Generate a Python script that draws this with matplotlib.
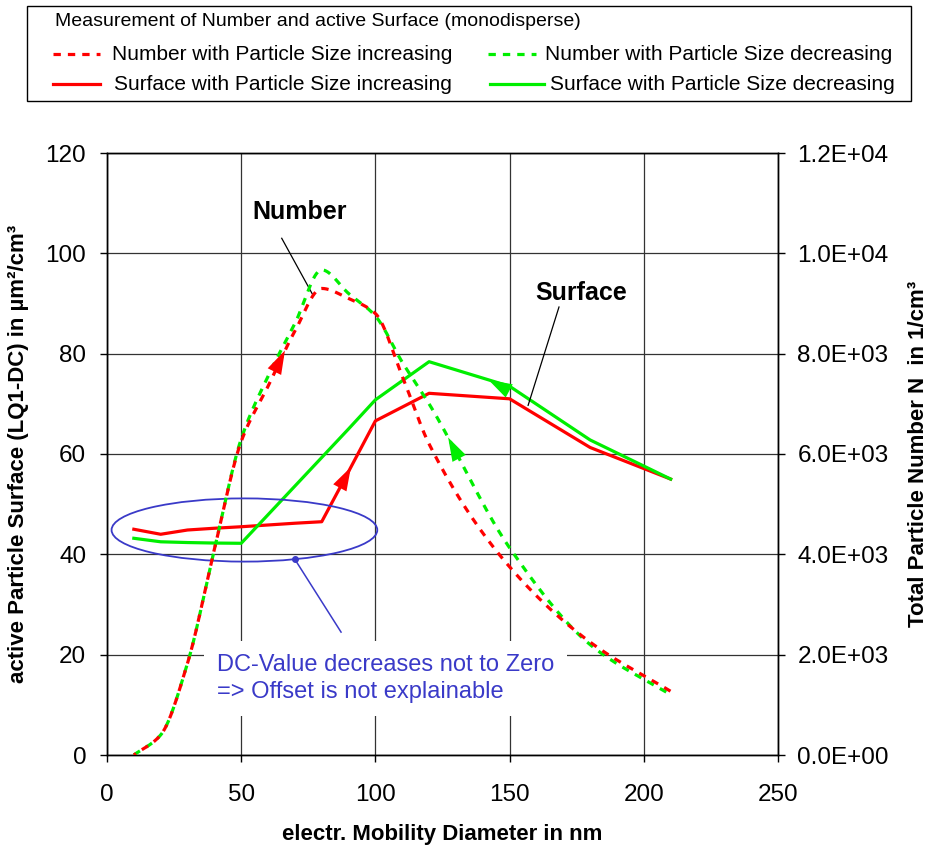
import numpy as np
import matplotlib
matplotlib.use("Agg")
import matplotlib.pyplot as plt
from matplotlib.patches import Ellipse, Rectangle
from matplotlib.lines import Line2D
from matplotlib.ticker import FuncFormatter

plt.rcParams["font.family"] = ["Liberation Sans", "DejaVu Sans"]

# Mobility diameter steps of the monodisperse scan (nm)
diameter_nm = [10, 20, 30, 40, 50, 60, 70, 80, 90, 100, 110, 120, 150, 180, 210]

# Total particle number N (1/cm³)
number_increasing = [0, 400, 1830, 4100, 6250, 7350, 8450, 9300, 9100, 8800, 7550, 6200, 3750, 2250, 1270]
number_decreasing = [0, 400, 1830, 4100, 6300, 7550, 8600, 9670, 9200, 8750, 7830, 7000, 4130, 2200, 1200]

# Active particle surface LQ1-DC (µm²/cm³)
surface_increasing = [45.0, 44.0, 44.85, 45.2, 45.5, 45.85, 46.2, 46.5, 56.5, 66.6, 69.35, 72.1, 71.0, 61.3, 55.0]
surface_decreasing = [43.2, 42.5, 42.35, 42.25, 42.2, 47.9, 53.6, 59.3, 65.0, 70.8, 74.6, 78.4, 73.5, 62.8, 55.0]

x_ticks = [0, 50, 100, 150, 200, 250]
surface_ticks = [0, 20, 40, 60, 80, 100, 120]
number_ticks = [0, 2000, 4000, 6000, 8000, 10000, 12000]

legend_title = "Measurement of Number and active Surface (monodisperse)"
legend_labels = ["Number with Particle Size increasing", "Number with Particle Size decreasing",
                 "Surface with Particle Size increasing", "Surface with Particle Size decreasing"]

RED = "#ff0000"
GREEN = "#00ee00"
BLUE = "#3a3ac8"
DASH = (0, (2.3, 2.2))

W, H = 944, 848


def smooth(x, y, n=60):
    """Shape-preserving (monotone) cubic curve through the measured points."""
    x = np.asarray(x, float)
    y = np.asarray(y, float)
    h = np.diff(x)
    d = np.diff(y) / h
    m = np.zeros_like(y)
    m[0], m[-1] = d[0], d[-1]
    for k in range(1, len(x) - 1):
        if d[k - 1] * d[k] > 0:
            w1 = 2 * h[k] + h[k - 1]
            w2 = h[k] + 2 * h[k - 1]
            m[k] = (w1 + w2) / (w1 / d[k - 1] + w2 / d[k])
    xs, ys = [x[0]], [y[0]]
    for k in range(len(x) - 1):
        t = np.linspace(0, 1, n)[1:]
        h00 = 2 * t ** 3 - 3 * t ** 2 + 1
        h10 = t ** 3 - 2 * t ** 2 + t
        h01 = -2 * t ** 3 + 3 * t ** 2
        h11 = t ** 3 - t ** 2
        xs.extend(x[k] + t * h[k])
        ys.extend(h00 * y[k] + h10 * h[k] * m[k] + h01 * y[k + 1] + h11 * h[k] * m[k + 1])
    return np.array(xs), np.array(ys)


def direction_arrow(axis, xs, ys, x_tip, x_base, color):
    """Filled arrow head sitting on a curve, pointing from x_base to x_tip."""
    x_back = x_tip - 2.5 * (x_tip - x_base)
    tip = (x_tip, np.interp(x_tip, xs, ys))
    back = (x_back, np.interp(x_back, xs, ys))
    axis.annotate("", xy=tip, xytext=back,
                  arrowprops=dict(arrowstyle="-|>,head_length=0.85,head_width=0.27",
                                  mutation_scale=20, fc=color, ec=color, lw=0,
                                  shrinkA=0, shrinkB=0), zorder=6)


def fx(px):
    return px / W


def fy(py):
    return 1 - py / H


fig = plt.figure(figsize=(W / 100, H / 100), dpi=100)
ax = fig.add_axes([fx(107), 93 / H, 671 / W, 602 / H])
ax2 = ax.twinx()

ax.set_xlim(0, 250)
ax.set_ylim(0, 120)
ax2.set_ylim(0, 12000)
ax.set_xticks(x_ticks)
ax.set_yticks(surface_ticks)
ax2.set_yticks(number_ticks)
ax2.yaxis.set_major_formatter(FuncFormatter(lambda v, _: f"{v:.1E}"))

ax.grid(True, color="#333333", lw=0.9)
ax.set_axisbelow(True)
for a in (ax, ax2):
    for s in a.spines.values():
        s.set_color("black")
        s.set_linewidth(1.0)
ax.tick_params(axis="both", direction="out", length=5, width=1, labelsize=17.5, color="black")
ax.tick_params(axis="y", pad=10)
ax.tick_params(axis="x", pad=16)
ax2.tick_params(axis="y", direction="out", length=5, width=1, labelsize=17.5, pad=9)

# Surface curves (left axis)
ax.plot(diameter_nm, surface_increasing, color=RED, lw=2.3, zorder=4)
ax.plot(diameter_nm, surface_decreasing, color=GREEN, lw=2.3, zorder=4)

# Number curves (right axis), smoothed
nx_i, ny_i = smooth(diameter_nm, number_increasing)
nx_d, ny_d = smooth(diameter_nm, number_decreasing)
ax2.plot(nx_d, ny_d, color=GREEN, lw=2.3, ls=DASH, zorder=3)
ax2.plot(nx_i, ny_i, color=RED, lw=2.3, ls=(1.5, (2.3, 2.2)), zorder=3)

# Scan direction arrows
direction_arrow(ax2, nx_i, ny_i, 66.3, 61.4, RED)
direction_arrow(ax, np.array(diameter_nm, float), np.array(surface_increasing), 90.9, 87.5, RED)
direction_arrow(ax, np.array(diameter_nm, float), np.array(surface_decreasing), 142.1, 150.7, GREEN)
direction_arrow(ax2, nx_d, ny_d, 127.1, 131.3, GREEN)

# Annotations
ax.text(71.9, 108.2, "Number", fontsize=18, fontweight="bold", ha="center", va="center")
ax.plot([65.1, 76.6], [103.0, 91.8], color="black", lw=0.9, zorder=5)
ax.text(176.6, 92.1, "Surface", fontsize=18, fontweight="bold", ha="center", va="center")
ax.plot([168.4, 156.9], [89.3, 69.7], color="black", lw=0.9, zorder=5)

ax.add_patch(Ellipse((51.2, 44.85), 99, 12.6, fill=False, ec=BLUE, lw=1.3, zorder=5))
ax.plot([70.0, 87.2], [39.0, 24.5], color=BLUE, lw=1.1, zorder=5)
ax.plot([70.0], [39.0], "o", color=BLUE, ms=4, zorder=5)
ax.text(40.9, 15.3, "DC-Value decreases not to Zero\n=> Offset is not explainable",
        fontsize=17, color=BLUE, ha="left", va="center", linespacing=1.3,
        bbox=dict(boxstyle="square,pad=0.55", fc="white", ec="none"), zorder=7)

ax.set_xlabel("electr. Mobility Diameter in nm", fontsize=16, fontweight="bold", labelpad=13)
ax.set_ylabel("active Particle Surface (LQ1-DC) in µm²/cm³", fontsize=16, fontweight="bold", labelpad=12)
ax2.set_ylabel("Total Particle Number N  in 1/cm³", fontsize=16, fontweight="bold", labelpad=14)

# Legend box above the plot
fig.add_artist(Rectangle((fx(27), fy(101)), (911 - 27) / W, 95 / H, transform=fig.transFigure,
                         fill=True, fc="white", ec="black", lw=1.0))
fig.text(fx(55), fy(21), legend_title, fontsize=14, ha="left", va="center")
legend_rows = [
    (54, 53, 100, 112, RED, DASH, legend_labels[0]),
    (54, 488, 536, 545, GREEN, DASH, legend_labels[1]),
    (84, 53, 100, 114, RED, "-", legend_labels[2]),
    (84, 490, 544, 550, GREEN, "-", legend_labels[3]),
]
for row_y, x0, x1, tx, color, style, label in legend_rows:
    fig.add_artist(Line2D([fx(x0), fx(x1)], [fy(row_y), fy(row_y)], transform=fig.transFigure,
                          color=color, lw=2.3, ls=style))
    fig.text(fx(tx), fy(row_y), label, fontsize=15, ha="left", va="center")

fig.savefig("out.png", dpi=100)
